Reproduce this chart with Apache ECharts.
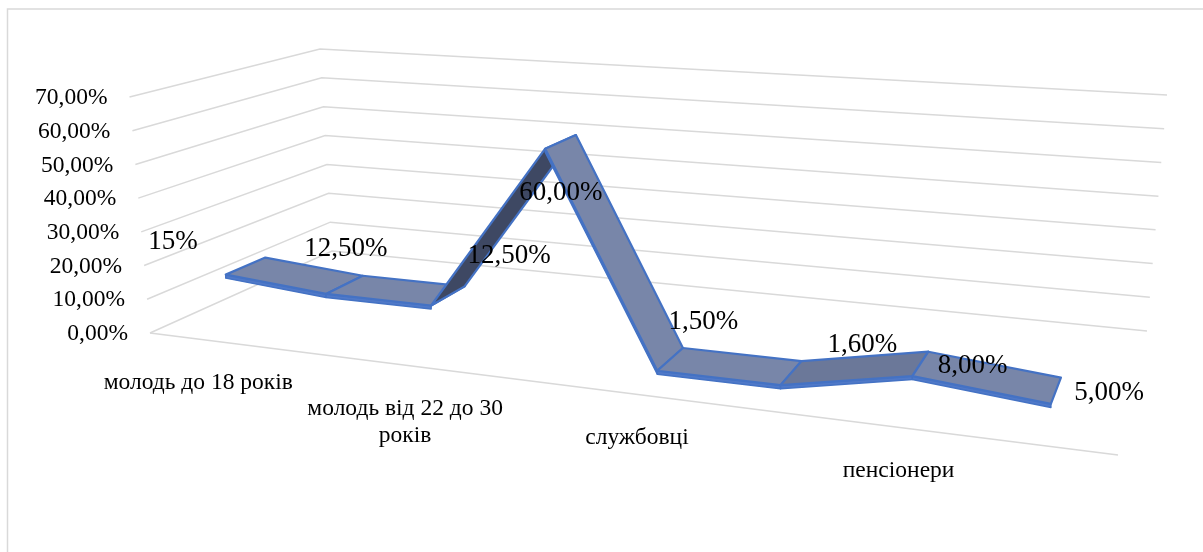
<!DOCTYPE html>
<html><head><meta charset="utf-8">
<script src="https://cdn.jsdelivr.net/npm/echarts/dist/echarts.min.js"></script>
<style>html,body{margin:0;padding:0;background:#fff}#c{width:1203px;height:552px}</style>
</head><body><div id="c"></div>
<script>
// ---- data ----
const categories = ['молодь до 18 років', '', 'молодь від 22 до 30 років', '', 'службовці', '', 'пенсіонери', ''];
const values = [0.15, 0.125, 0.125, 0.60, 0.015, 0.016, 0.08, 0.05];
const valueLabels = ['15%', '12,50%', '12,50%', '60,00%', '1,50%', '1,60%', '8,00%', '5,00%'];
const ticks = [0, 0.1, 0.2, 0.3, 0.4, 0.5, 0.6, 0.7];
const tickLabels = ['0,00%', '10,00%', '20,00%', '30,00%', '40,00%', '50,00%', '60,00%', '70,00%'];

// ---- 3D plot-cube layout: floor and top faces (X along categories, Z depth) ----
const floorCorners = [[0,0,150,333],[1,0,1118,455],[1,1,1147,331],[0,1,332,251]];
const topCorners   = [[0,0,129.5,97],[1,0,1122,162],[1,1,1167,95],[0,1,320,49]];
function solve(M){const n=M.length;for(let c=0;c<n;c++){let p=c;for(let r=c+1;r<n;r++)if(Math.abs(M[r][c])>Math.abs(M[p][c]))p=r;[M[c],M[p]]=[M[p],M[c]];for(let r=0;r<n;r++){if(r===c)continue;const f=M[r][c]/M[c][c];for(let k=c;k<=n;k++)M[r][k]-=f*M[c][k];}}return M.map((row,i)=>row[n]/row[i]);}
function homography(c){const M=[];c.forEach(([x,y,u,v])=>{M.push([x,y,1,0,0,0,-u*x,-u*y,u]);M.push([0,0,0,x,y,1,-v*x,-v*y,v]);});const h=solve(M);return (x,y)=>{const w=h[6]*x+h[7]*y+1;return [(h[0]*x+h[1]*y+h[2])/w,(h[3]*x+h[4]*y+h[5])/w];};}
const Hf = homography(floorCorners), Ht = homography(topCorners);
function P(X,Y,Z){const a=Hf(X,Z),b=Ht(X,Z);return [a[0]+(b[0]-a[0])*Y, a[1]+(b[1]-a[1])*Y];}

// hidden reference grid: the library's scales map data -> unit cube coords
const GW = 800, GH = 500;
function norm(pt){return {X: pt[0]/GW, Y: (GH-pt[1])/GH};}
const ZF = 0.15, ZB = 0.355, ZM = (ZF+ZB)/2;
const labelNudge = [[-73,-24],[1,-36],[61,-40],[0,51],[33,-37],[71,-28],[52,2],[53,2]];

const SERIF = '"Liberation Serif","Times New Roman",serif';
const GRID = '#d9d9d9';
const CAT_FONT = '23.5px ' + SERIF;
const mctx = document.createElement('canvas').getContext('2d');
function wrap(text, font, maxW){mctx.font=font;const words=text.split(' ');const lines=[];let cur='';words.forEach(w=>{const t=cur?cur+' '+w:w;if(cur&&mctx.measureText(t).width>maxW){lines.push(cur);cur=w;}else cur=t;});if(cur)lines.push(cur);return lines.join('\n');}

function gridItem(params, api){
  const Y = norm(api.coord([0, api.value(1)])).Y;
  const A = P(0,Y,0), B = P(0,Y,1), C = P(1,Y,1);
  const ch = [
    {type:'polyline', shape:{points:[A,B,C]}, style:{stroke:GRID, lineWidth:1.5, fill:null}},
    {type:'text', style:{text: tickLabels[params.dataIndex], x:A[0]-22, y:A[1]+1, align:'right', verticalAlign:'middle', font:'23.5px '+SERIF, fill:'#000'}}
  ];
  if (params.dataIndex === 0) {
    const E = P(1,0,0);
    ch.push({type:'line', shape:{x1:A[0],y1:A[1],x2:E[0],y2:E[1]}, style:{stroke:GRID, lineWidth:1.5}});
  }
  return {type:'group', children: ch};
}
function catItem(params, api){
  const name = categories[params.dataIndex];
  if (!name) return null;
  const X = norm(api.coord([api.value(0), 0])).X;
  const p = P(X,0,0);
  return {type:'text', style:{text:wrap(name, CAT_FONT, 210), x:p[0], y:p[1]+30, align:'center', verticalAlign:'top', lineHeight:27, font:CAT_FONT, fill:'#000'}};
}
function ribbonItem(params, api){
  const i = params.dataIndex;
  if (i >= values.length-1) return null;
  const a = norm(api.coord([i, api.value(1)]));
  const b = norm(api.coord([i+1, values[i+1]]));
  const f0=P(a.X,a.Y,ZF), f1=P(b.X,b.Y,ZF), b1=P(b.X,b.Y,ZB), b0=P(a.X,a.Y,ZB);
  const quad=[f0,f1,b1,b0];
  let s=0; for(let k=0;k<4;k++){const p=quad[k],q=quad[(k+1)%4];s+=p[0]*q[1]-q[0]*p[1];}
  const under = s > 0;
  const rising = b.Y > a.Y + 0.005;
  const fill = under ? '#3e4863' : (rising ? '#6b7899' : '#7886a9');
  const ch = [];
  if (!under) {
    ch.push({type:'polygon', shape:{points:[f0,f1,[f1[0],f1[1]+3.5],[f0[0],f0[1]+3.5]]}, style:{fill:'#5079c8', stroke:'#4472c4', lineWidth:1.5, lineJoin:'round'}});
  }
  ch.push({type:'polygon', shape:{points:quad}, style:{fill:fill, stroke:'#4472c4', lineWidth:2.2, lineJoin:'round'}});
  return {type:'group', children: ch};
}
function labelItem(params, api){
  const i = params.dataIndex;
  const a = norm(api.coord([i, api.value(1)]));
  const p = P(a.X, a.Y, ZM);
  return {type:'text', style:{text: valueLabels[i], x:p[0]+labelNudge[i][0], y:p[1]+labelNudge[i][1], align:'center', verticalAlign:'middle', font:'27px '+SERIF, fill:'#000'}};
}

const chart = echarts.init(document.getElementById('c'), null, {renderer:'canvas'});
chart.setOption({
  backgroundColor:'#fff',
  animation:false,
  graphic:[{type:'rect', shape:{x:7.5,y:9,width:1230,height:580}, style:{fill:null, stroke:GRID, lineWidth:1.5}, z:-1}],
  grid:{left:0, top:0, width:GW, height:GH, show:false},
  xAxis:{type:'category', data:categories, show:false},
  yAxis:{type:'value', min:0, max:0.7, interval:0.1, show:false},
  series:[
    {type:'custom', name:'grid', clip:false, z:1, silent:true, renderItem:gridItem, data:ticks.map(t=>[0,t])},
    {type:'custom', name:'cats', clip:false, z:1, silent:true, renderItem:catItem, data:categories.map((c,i)=>[i,0])},
    {type:'custom', name:'ribbon', clip:false, z:2, renderItem:ribbonItem, data:values.map((v,i)=>[i,v])},
    {type:'custom', name:'labels', clip:false, z:3, renderItem:labelItem, data:values.map((v,i)=>[i,v])}
  ]
});
</script></body></html>
